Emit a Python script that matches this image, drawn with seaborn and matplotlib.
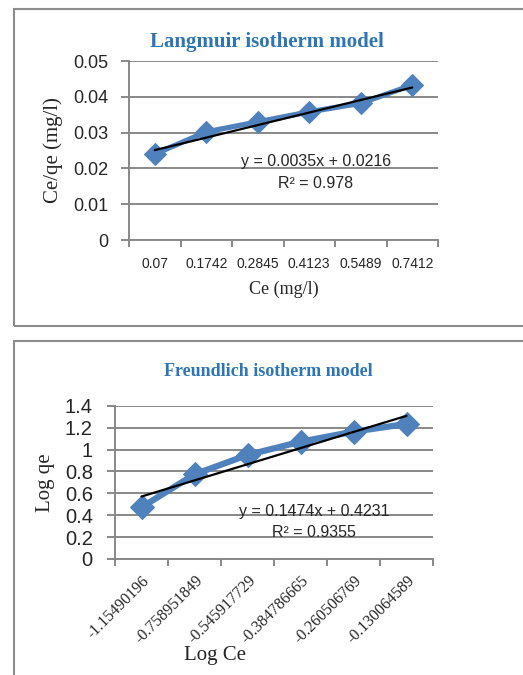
import matplotlib
matplotlib.use("Agg")
import matplotlib.pyplot as plt
import seaborn as sns
import pandas as pd
import numpy as np
from matplotlib.patches import Rectangle

# ---------------- data ----------------
lang_ce = ["0.07", "0.1742", "0.2845", "0.4123", "0.5489", "0.7412"]
lang_ceqe = [0.0240, 0.0302, 0.0330, 0.0358, 0.0382, 0.0433]
lang_slope, lang_intercept = 0.0035, 0.0216
lang_eq = "y = 0.0035x + 0.0216"
lang_r2 = "R² = 0.978"

freu_logce = ["-1.15490196", "-0.758951849", "-0.545917729",
              "-0.384786665", "-0.260506769", "-0.130064589"]
freu_logqe = [0.472, 0.773, 0.950, 1.071, 1.163, 1.233]
freu_slope, freu_intercept = 0.1474, 0.4231
freu_eq = "y = 0.1474x + 0.4231"
freu_r2 = "R² = 0.9355"

lang_yticks = [0, 0.01, 0.02, 0.03, 0.04, 0.05]
lang_yticklabels = ["0", "0.01", "0.02", "0.03", "0.04", "0.05"]
freu_yticks = [0, 0.2, 0.4, 0.6, 0.8, 1.0, 1.2, 1.4]
freu_yticklabels = ["0", "0.2", "0.4", "0.6", "0.8", "1", "1.2", "1.4"]

# ---------------- style ----------------
sns.set_style("white")
plt.rcParams['font.family'] = ['Liberation Sans', 'DejaVu Sans']

BLUE = "#4F81BD"
TITLE_BLUE = "#2E75B6"
GRID = "#888888"
SERIF = ['Liberation Serif', 'DejaVu Serif']

W, H = 523, 675
fig = plt.figure(figsize=(W / 100, H / 100), dpi=100)


def px_axes(l, t, r, b):
    return fig.add_axes([l / W, 1 - b / H, (r - l) / W, (b - t) / H])


# panel borders (right edge runs off the image)
fig.add_artist(Rectangle((14 / W, 1 - 326 / H), 520 / W, 317 / H,
                         transform=fig.transFigure, fill=False,
                         edgecolor="#8c8c8c", linewidth=1.5))
fig.add_artist(Rectangle((14 / W, -0.05), 520 / W, (1 - 341 / H) + 0.05,
                         transform=fig.transFigure, fill=False,
                         edgecolor="#8c8c8c", linewidth=1.5))


def draw_panel(ax, cats, vals, slope, intercept, yticks, yticklabels,
               lw, ms, ytick_fs, ytick_pad):
    pos = np.arange(1, len(cats) + 1)
    df = pd.DataFrame({"pos": pos, "val": vals})
    sns.lineplot(data=df, x="pos", y="val", ax=ax, color=BLUE,
                 linewidth=lw, marker="D", markersize=ms,
                 markeredgecolor=BLUE, markerfacecolor=BLUE, zorder=3)
    trend = intercept + slope * pos
    ax.plot([pos[0], pos[-1]], [trend[0], trend[-1]], color="black",
            linewidth=1.6, zorder=4)
    ax.set_xlim(0.5, len(cats) + 0.5)
    ax.set_ylim(yticks[0], yticks[-1])
    ax.set_yticks(yticks)
    ax.set_yticklabels(yticklabels, fontsize=ytick_fs)
    ax.yaxis.grid(True, color=GRID, linewidth=1.4)
    ax.set_axisbelow(True)
    for s in ["top", "right"]:
        ax.spines[s].set_visible(False)
    for s in ["left", "bottom"]:
        ax.spines[s].set_color(GRID)
        ax.spines[s].set_linewidth(1.4)
    ax.tick_params(axis="y", which="major", direction="out", length=6,
                   width=1.4, color=GRID, pad=ytick_pad, left=True)
    # category boundary ticks (Excel-like) and centred labels
    ax.set_xticks(np.arange(0.5, len(cats) + 1, 1.0), minor=True)
    ax.set_xticks(pos)
    ax.tick_params(axis="x", which="minor", direction="out", length=5,
                   width=1.4, color=GRID, bottom=True)
    ax.tick_params(axis="x", which="major", length=0, bottom=True)
    ax.set_xlabel("")
    ax.set_ylabel("")


# ---------------- Langmuir ----------------
ax1 = px_axes(129, 61, 438, 240)
draw_panel(ax1, lang_ce, lang_ceqe, lang_slope, lang_intercept,
           lang_yticks, lang_yticklabels, lw=3.8, ms=11, ytick_fs=13,
           ytick_pad=9)
ax1.set_xticklabels(lang_ce, fontsize=10)
ax1.tick_params(axis="x", which="major", pad=12)
ax1.set_xlabel("Ce (mg/l)", family=SERIF, fontsize=13)
ax1.xaxis.set_label_coords(0.5, -0.274)
ax1.xaxis.label.set_va("center")
ax1.set_ylabel("Ce/qe (mg/l)", family=SERIF, fontsize=15)
ax1.yaxis.set_label_coords(-0.246, 0.5)
ax1.yaxis.label.set_va("center")
ax1.text(0.447, 1.106, "Langmuir isotherm model", transform=ax1.transAxes,
         ha="center", va="center", family=SERIF, fontweight="bold",
         fontsize=15, color=TITLE_BLUE)
ax1.text(0.605, 0.436, lang_eq, transform=ax1.transAxes, ha="center",
         va="center", fontsize=11.5, zorder=5)
ax1.text(0.605, 0.318, lang_r2, transform=ax1.transAxes, ha="center",
         va="center", fontsize=11.5, zorder=5)

# ---------------- Freundlich ----------------
ax2 = px_axes(115, 405.7, 433, 559)
draw_panel(ax2, freu_logce, freu_logqe, freu_slope, freu_intercept,
           freu_yticks, freu_yticklabels, lw=4.5, ms=12, ytick_fs=14.5,
           ytick_pad=10)
ax2.set_xticklabels(freu_logce, fontsize=11.5, family=SERIF, rotation=45,
                    ha="right", va="top", rotation_mode="anchor")
ax2.tick_params(axis="x", which="major", pad=10)
ax2.set_xlabel("Log Ce", family=SERIF, fontsize=15)
ax2.xaxis.set_label_coords(0.314, -0.63)
ax2.xaxis.label.set_va("center")
ax2.set_ylabel("Log qe", family=SERIF, fontsize=15)
ax2.yaxis.set_label_coords(-0.22, 0.5)
ax2.yaxis.label.set_va("center")
ax2.text(0.481, 1.22, "Freundlich isotherm model", transform=ax2.transAxes,
         ha="center", va="center", family=SERIF, fontweight="bold",
         fontsize=13, color=TITLE_BLUE)
ax2.text(0.626, 0.313, freu_eq, transform=ax2.transAxes, ha="center",
         va="center", fontsize=11.5, zorder=5)
ax2.text(0.626, 0.176, freu_r2, transform=ax2.transAxes, ha="center",
         va="center", fontsize=11.5, zorder=5)

fig.savefig("out.png", dpi=100)
